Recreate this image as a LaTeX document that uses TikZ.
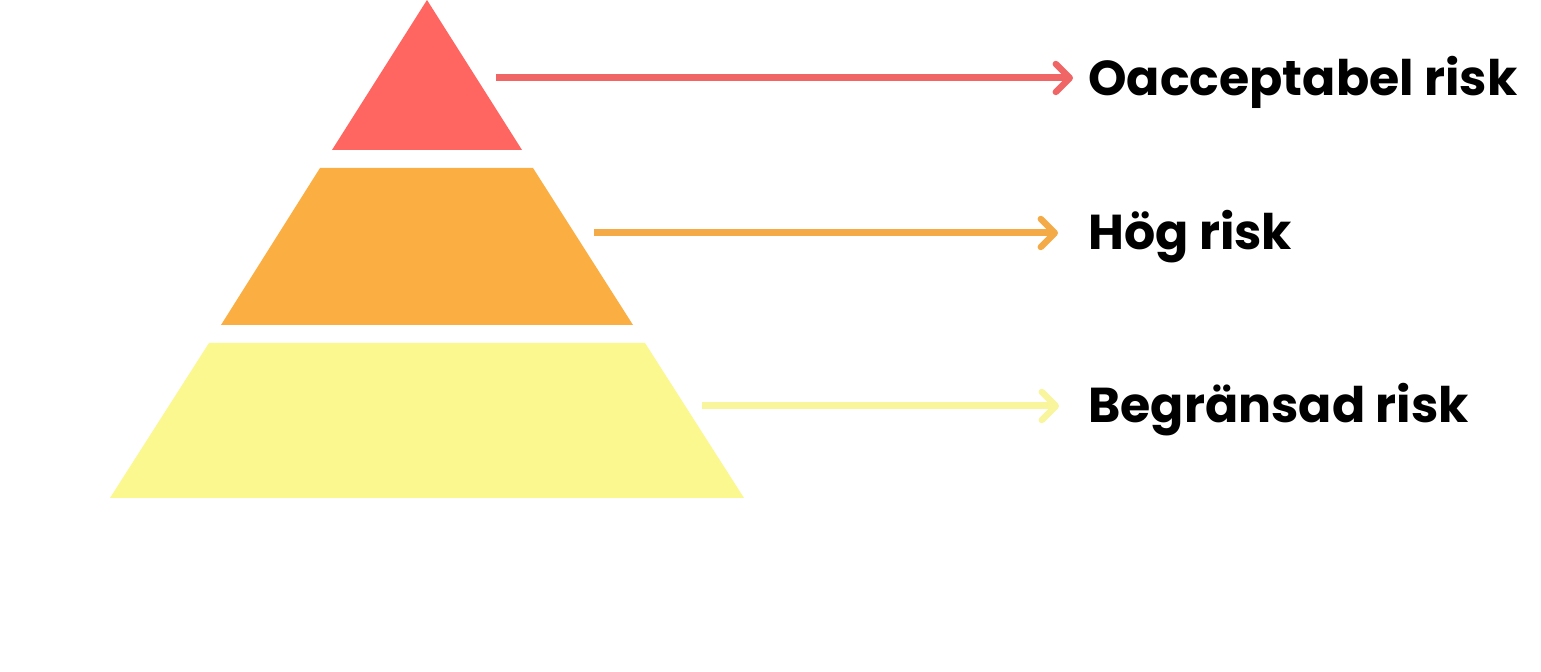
\documentclass[tikz,border=0pt]{standalone}
\usepackage{fontspec}
\setmainfont{Poppins}
\usetikzlibrary{arrows.meta}
\definecolor{cred}{HTML}{FF6561}
\definecolor{corange}{HTML}{FBAE42}
\definecolor{cyellow}{HTML}{FAF88F}
\definecolor{ared}{HTML}{F06565}
\definecolor{aorange}{HTML}{F5AA48}
\definecolor{ayellow}{HTML}{F8F59C}
\tikzset{
  pointer/.style={line width=3.5pt, -{Straight Barb[length=7pt,width=14pt,line width=3.2pt,round]}},
  label/.style={anchor=base west, inner sep=0pt, font=\fontsize{24.5}{28}\selectfont\bfseries}
}
\begin{document}
\begin{tikzpicture}[x=0.5pt,y=-0.5pt]
\useasboundingbox[fill=white] (0,0) rectangle (1541,672);
\fill[cred] (427,0) -- (522,150) -- (332,150) -- cycle;
\fill[corange] (320,168) -- (533,168) -- (633,325) -- (221,325) -- cycle;
\fill[cyellow] (209,343) -- (645,343) -- (744,498) -- (110,498) -- cycle;
\node[label] (t1) at (1088,96) {Oacceptabel risk};
\node[label] (t2) at (1088,250) {Hög risk};
\node[label] (t3) at (1088,423) {Begränsad risk};
\coordinate (s1) at (496,78);
\coordinate (s2) at (594,233);
\coordinate (s3) at (702,406);
\coordinate (e1) at (1073,78);
\coordinate (e2) at (1058,233);
\coordinate (e3) at (1059,406);
\draw[pointer, ared] (s1) -- (e1);
\draw[pointer, aorange] (s2) -- (e2);
\draw[pointer, ayellow] (s3) -- (e3);
\end{tikzpicture}
\end{document}
